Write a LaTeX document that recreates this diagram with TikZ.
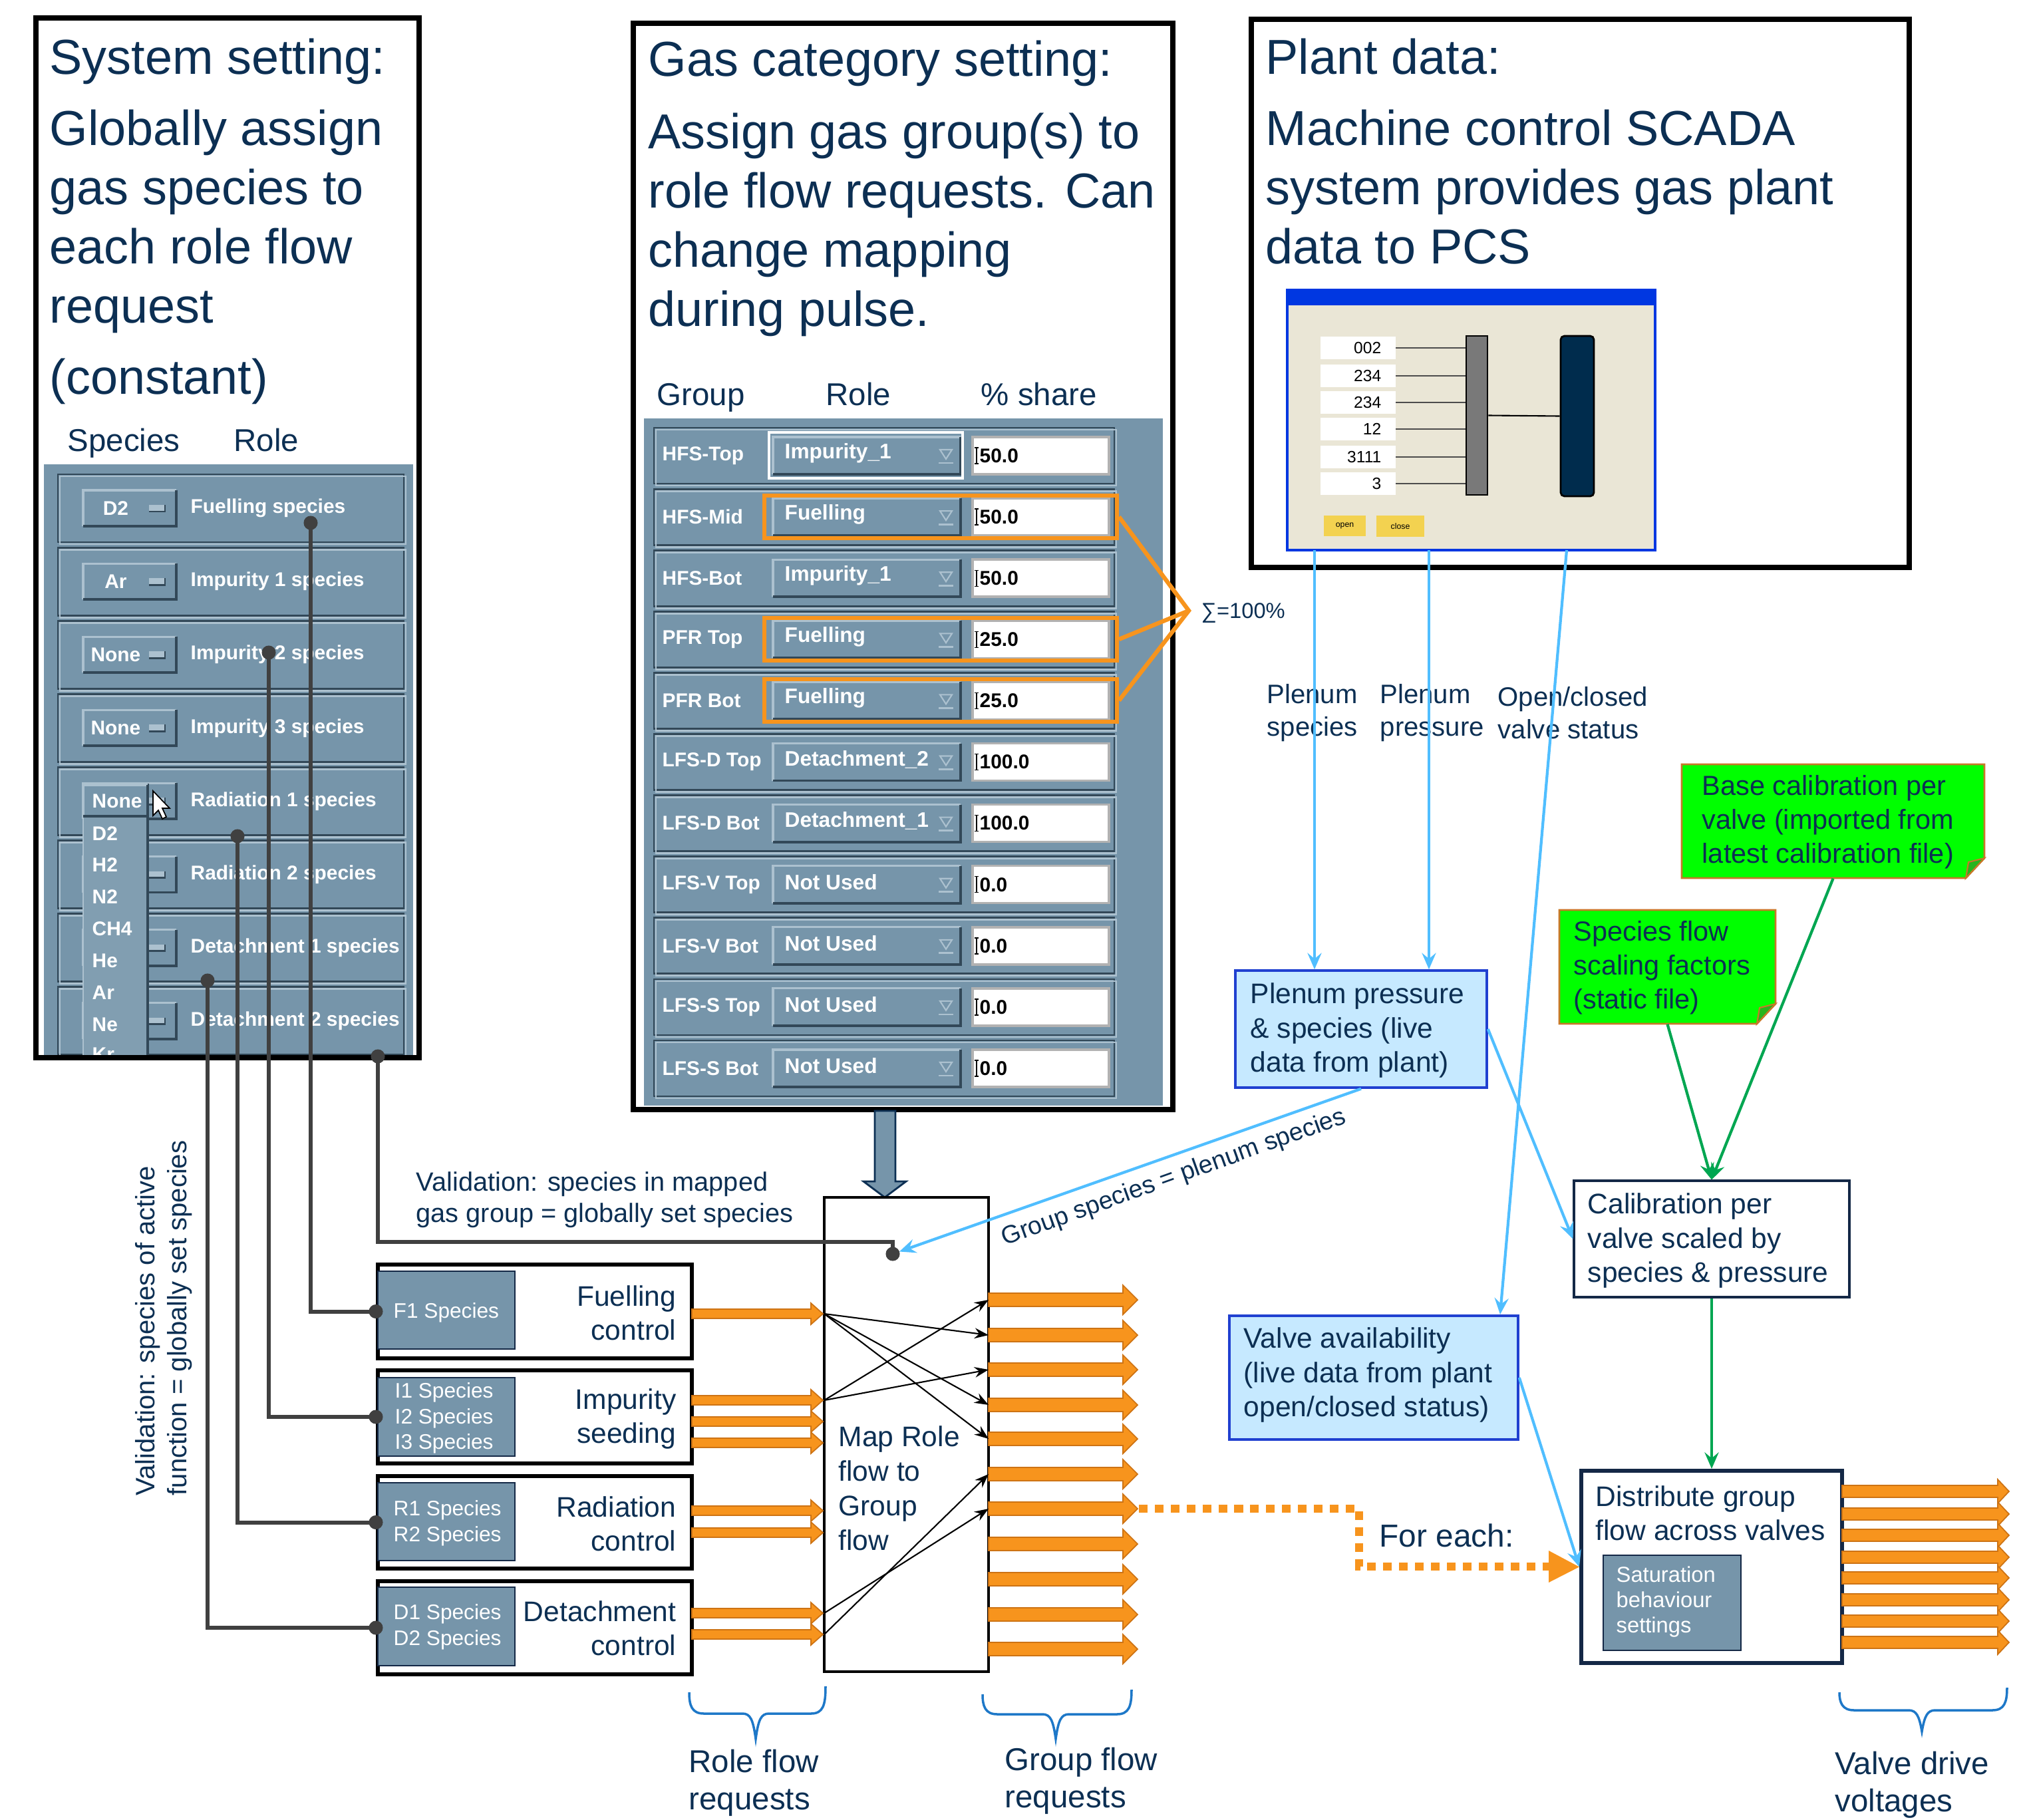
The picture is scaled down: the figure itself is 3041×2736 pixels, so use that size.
\documentclass[tikz,border=0pt]{standalone}
\usepackage{fontspec}
\setmainfont{Liberation Sans}
\usetikzlibrary{arrows.meta,fit}
\definecolor{navy}{RGB}{12,47,83}
\definecolor{steel}{RGB}{118,149,170}
\definecolor{steellt}{RGB}{172,193,207}
\definecolor{steeldk}{RGB}{50,72,88}
\definecolor{orng}{RGB}{247,148,29}
\definecolor{orngdk}{RGB}{205,115,20}
\definecolor{skyline}{RGB}{80,190,255}
\definecolor{plenfill}{RGB}{198,233,255}
\definecolor{plenedge}{RGB}{32,64,208}
\definecolor{grnarrow}{RGB}{0,166,81}
\definecolor{notegreen}{RGB}{0,255,0}
\definecolor{noteflap}{RGB}{40,180,30}
\definecolor{noteedge}{RGB}{200,120,40}
\definecolor{connector}{RGB}{64,64,64}
\definecolor{beige}{RGB}{234,230,214}
\definecolor{scadablue}{RGB}{0,55,225}
\definecolor{darkbar}{RGB}{0,44,77}
\definecolor{btnyellow}{RGB}{243,210,80}
\definecolor{bracecol}{RGB}{30,120,200}
\definecolor{boxnavy}{RGB}{20,40,70}
\newcommand\fs[2]{\fontsize{#1}{#2}\selectfont}
\newcommand\guibtn[4]{%
  \fill[steel] ({#1},{#2}) rectangle ({#3},{#4});
  \draw[steellt, line width=0.9pt] ({#1},{#4}) -- ({#1},{#2}) -- ({#3},{#2});
  \draw[steeldk, line width=1.1pt] ({#3},{#2}) -- ({#3},{#4}) -- ({#1},{#4});}
\newcommand\guirow[4]{%
  \draw[steeldk, line width=0.8pt] ({#1},{#2}) rectangle ({#3},{#4});
  \draw[steellt, line width=0.8pt] ({#1+3},{#2+3}) rectangle ({#3+3},{#4+3});}
\newcommand\flowarrow[6]{%
  \filldraw[fill=orng, draw=orngdk, line width=0.5pt, line join=miter]
  ({#1},{#3-#4}) -- ({#2-#6},{#3-#4}) -- ({#2-#6},{#3-#5}) -- ({#2},{#3}) --
  ({#2-#6},{#3+#5}) -- ({#2-#6},{#3+#4}) -- ({#1},{#3+#4}) -- cycle;}
\newcommand\curlybrace[7]{%
  \draw[bracecol, line width=1pt] ({#1},{#2}) .. controls ({#1},{#6-12}) and ({#1+4},{#6}) .. ({#1+22},{#6})
  -- ({#5-20},{#6}) .. controls ({#5-8},{#6}) and ({#5-4},{#6+9}) .. ({#5},{#7})
  .. controls ({#5+4},{#6+9}) and ({#5+8},{#6}) .. ({#5+20},{#6})
  -- ({#3-22},{#6}) .. controls ({#3-4},{#6}) and ({#3},{#6-12}) .. ({#3},{#4});}
\tikzset{
  every node/.style={inner sep=0pt},
  hd/.style={font=\fs{21}{25}, text=navy, anchor=mid west},
  hdsm/.style={font=\fs{13.5}{16}, text=navy, anchor=mid west},
  gui/.style={font=\fs{8.5}{10}\bfseries, text=white},
  body/.style={font=\fs{12.1}{14.6}, text=navy, align=left, anchor=west},
  frame/.style={draw=black, line width=2.2pt},
  conn/.style={draw=connector, line width=1.7pt},
  skyarrow/.style={draw=skyline, line width=1.2pt, -{Stealth[length=7pt,width=6pt,inset=2.5pt]}},
  grnarr/.style={draw=grnarrow, line width=1.2pt, -{Stealth[length=7pt,width=6pt,inset=2.5pt]}},
  thinarrow/.style={draw=black, line width=0.6pt, -{Stealth[length=6pt,width=4.5pt,inset=2pt]}},
}
\begin{document}
\begin{tikzpicture}[x=0.01cm,y=-0.01cm]
\useasboundingbox (0,0) rectangle (3041,2736);

% ---------------- left GUI panel (system setting)
\fill[steel] (66,698) rectangle (621,1590);
\begin{scope}
\clip (66,698) rectangle (621,1588);
\foreach \i/\rowval/\rowlab in {0/D2/Fuelling species,1/Ar/Impurity 1 species,2/None/Impurity 2 species,3/None/Impurity 3 species,4/None/Radiation 1 species,5//Radiation 2 species,6//Detachment 1 species,7//Detachment 2 species}{
  \pgfmathsetmacro\yc{764+110.1*\i}
  \guirow{87}{\yc-51}{607}{\yc+51}
  \guibtn{125}{\yc-27}{265}{\yc+27}
  \fill[steellt] (224,{\yc-5}) rectangle (248,{\yc+5});
  \draw[steeldk, line width=0.8pt] (224,{\yc+5}) -- (248,{\yc+5}) -- (248,{\yc-5});
  \node[gui] (sv\i) at (174,\yc) {\rowval};
  \node[gui, anchor=west] (sl\i) at (286,\yc) {\rowlab};
}
% drop-down list
\fill[steel!92!white] (125,1178) rectangle (222,1600);
\draw[steeldk, line width=1.3pt] (222,1178) -- (222,1600);
\draw[steellt, line width=0.8pt] (125,1600) -- (125,1178) -- (222,1178);
\guibtn{125}{1180}{222}{1227}
\node[gui, anchor=west] (dl0) at (138,1204) {None};
\foreach \j/\spc/\yy in {1/D2/1253,2/H2/1300,3/N2/1348,4/CH4/1396,5/He/1444,6/Ar/1492,7/Ne/1540,8/Kr/1585}
  \node[gui, anchor=west] (dl\j) at (138,\yy) {\spc};
% mouse cursor
\filldraw[fill=white, draw=black, line width=0.5pt] (230,1189) -- (230,1226) -- (238,1218) -- (244,1231) -- (250,1228) -- (244,1215) -- (255,1215) -- cycle;
\end{scope}

% ---------------- gas category GUI panel
\fill[steel] (968,629) rectangle (1748,1662);
\foreach \i/\gname/\grole/\gshare in {0/HFS-Top/Impurity\_1/50.0,1/HFS-Mid/Fuelling/50.0,2/HFS-Bot/Impurity\_1/50.0,3/PFR Top/Fuelling/25.0,4/PFR Bot/Fuelling/25.0,5/LFS-D Top/Detachment\_2/100.0,6/LFS-D Bot/Detachment\_1/100.0,7/LFS-V Top/Not Used/0.0,8/LFS-V Bot/Not Used/0.0,9/LFS-S Top/Not Used/0.0,10/LFS-S Bot/Not Used/0.0}{
  \pgfmathsetmacro\yc{685+92.1*\i}
  \guirow{983}{\yc-42}{1675}{\yc+42}
  \node[gui, anchor=west] (gn\i) at (995,\yc) {\gname};
  \guibtn{1162}{\yc-28}{1444}{\yc+28}
  \node[gui, anchor=west, font=\fs{9}{10}\bfseries] (gr\i) at (1179,{\yc-4}) {\grole};
  \draw[steellt, line width=0.6pt] (1413,{\yc-9}) -- (1431,{\yc-9}) -- (1422,{\yc+5}) -- cycle;
  \draw[steellt, line width=0.8pt] (1411,{\yc+11}) -- (1433,{\yc+11});
  \filldraw[fill=white, draw=gray!60, line width=1pt] (1462,{\yc-28}) rectangle (1667,{\yc+28});
  \draw[black, line width=0.4pt] (1468,{\yc-12}) -- (1468,{\yc+12}) (1465,{\yc-12}) -- (1471,{\yc-12}) (1465,{\yc+12}) -- (1471,{\yc+12});
  \node[font=\fs{8.5}{10}\bfseries, anchor=west] (gv\i) at (1472,\yc) {\gshare};
}
\draw[white, line width=1.3pt] (1156,650) rectangle (1447,719);

% ---------------- plant data SCADA picture
\fill[beige] (1935,436) rectangle (2488,827);
\draw[scadablue, line width=0.9pt] (1935,436) rectangle (2488,827);
\fill[scadablue] (1935,436) rectangle (2488,459);
\foreach \k/\num/\yy in {0/002/523,1/234/565,2/234/605,3/12/645,4/3111/687,5/3/727}{
  \fill[white] (1985,{\yy-17}) rectangle (2098,{\yy+17});
  \node[font=\fs{7}{8}, anchor=east] (sn\k) at (2077,\yy) {\num};
  \draw[black!70, line width=0.5pt] (2098,\yy) -- (2204,\yy);
}
\node[fill=gray!95!black, draw=black, line width=0.8pt, fit={(2204,505) (2236,744)}] (graybar) {};
\node[fill=darkbar, draw=black, line width=0.8pt, rounded corners=1.6pt, fit={(2346,505) (2396,746)}] (darkbarn) {};
\draw[black, line width=0.6pt] (graybar.east) -- (darkbarn.west);
\node[fill=btnyellow, fit={(1990,775) (2053,806)}] (openbtn) {};
\node[font=\fs{3.5}{4}] (opentxt) at (openbtn) {open};
\node[fill=btnyellow, fit={(2069,775) (2141,807)}] (closebtn) {};
\node[font=\fs{3.5}{4}] (closetxt) at (closebtn) {close};

% ---------------- frames
\node[frame, fit={(54,27) (630,1590)}] (sysframe) {};
\node[frame, fit={(952,35) (1763,1668)}] (gasframe) {};
\node[frame, fit={(1881,29) (2870,853)}] (plantframe) {};

% ---------------- headings
\node[hd] (sys1) at (74,102) {System setting:};
\node[hd] (sys2) at (74,209) {Globally assign};
\node[hd] (sys3) at (74,298) {gas species to};
\node[hd] (sys4) at (74,387) {each role flow};
\node[hd] (sys5) at (74,476) {request};
\node[hd] (sys6) at (74,583) {(constant)};
\node[hdsm] (spechd) at (101,669) {Species};
\node[hdsm] (rolehd) at (351,669) {Role};

\node[hd] (gas1) at (974,105) {Gas category setting:};
\node[hd] (gas2) at (974,214) {Assign gas group(s) to};
\node[hd] (gas3) at (974,303) {role flow requests. Can};
\node[hd] (gas4) at (974,392) {change mapping};
\node[hd] (gas5) at (974,481) {during pulse.};
\node[hdsm] (grphd) at (987,600) {Group};
\node[hdsm] (grolehd) at (1241,600) {Role};
\node[hdsm] (sharehd) at (1474,600) {\% share};

\node[hd] (pl1t) at (1902,102) {Plant data:};
\node[hd] (pl2t) at (1902,209) {Machine control SCADA};
\node[hd] (pl3t) at (1902,298) {system provides gas plant};
\node[hd] (pl4t) at (1902,387) {data to PCS};

% ---------------- orange sum highlight
\node[draw=orng, line width=1.8pt, fit={(1149,745) (1679,809)}] (ob1) {};
\node[draw=orng, line width=1.8pt, fit={(1149,929) (1679,993)}] (ob3) {};
\node[draw=orng, line width=1.8pt, fit={(1149,1021) (1679,1085)}] (ob4) {};
\coordinate (sigapex) at (1787,918);
\draw[orng, line width=1.8pt, line join=miter] (ob1.east) -- (sigapex) -- (ob4.east);
\draw[orng, line width=1.8pt] (ob3.east) -- (sigapex);
\node[font=\fs{9.3}{11}, text=navy, anchor=west] (sumlbl) at (1805,922) {∑=100\%};

% ---------------- big block arrow gas panel -> map
\filldraw[fill=steel, draw=navy, line width=0.8pt, line join=miter] (1315,1670) -- (1346,1670) -- (1346,1776) -- (1362,1776) -- (1330,1800) -- (1298,1776) -- (1315,1776) -- cycle;

% ---------------- role boxes
\node[draw=black, line width=1.7pt, fill=white, fit={(568,1901) (1040,2042)}] (fbox) {};
\node[draw=black, line width=1.7pt, fill=white, fit={(568,2060) (1040,2200)}] (ibox) {};
\node[draw=black, line width=1.7pt, fill=white, fit={(568,2219) (1040,2358)}] (rbox) {};
\node[draw=black, line width=1.7pt, fill=white, fit={(568,2377) (1040,2517)}] (dbox) {};
\node[fill=steel, draw=boxnavy, line width=0.8pt, fit={(568,1911) (774,2028)}] (fsp) {};
\node[fill=steel, draw=boxnavy, line width=0.8pt, fit={(568,2071) (774,2189)}] (isp) {};
\node[fill=steel, draw=boxnavy, line width=0.8pt, fit={(568,2229) (774,2346)}] (rsp) {};
\node[fill=steel, draw=boxnavy, line width=0.8pt, fit={(568,2386) (774,2504)}] (dsp) {};
\node[font=\fs{9}{11}, text=white, align=left, anchor=west] (fspt) at (591,1973) {F1 Species};
\node[font=\fs{9}{11}, text=white, align=left, anchor=west] (ispt) at (593,2132) {I1 Species\\I2 Species\\I3 Species};
\node[font=\fs{9}{11}, text=white, align=left, anchor=west] (rspt) at (591,2290) {R1 Species\\R2 Species};
\node[font=\fs{9}{11}, text=white, align=left, anchor=west] (dspt) at (591,2446) {D1 Species\\D2 Species};
\node[body, align=right, anchor=east] (ftxt) at (1017,1974) {Fuelling\\control};
\node[body, align=right, anchor=east] (itxt) at (1017,2133) {Impurity\\seeding};
\node[body, align=right, anchor=east] (rtxt) at (1017,2291) {Radiation\\control};
\node[body, align=right, anchor=east] (dtxt) at (1017,2448) {Detachment\\control};

% ---------------- map box
\node[draw=black, line width=1.4pt, fit={(1239,1800) (1486,2513)}] (map) {};
\node[body, font=\fs{12.1}{14.8}] (maptxt) at (1260,2237) {Map Role\\flow to\\Group\\flow};

% role flow arrows
\flowarrow{1040}{1237}{1975}{7}{16}{18}
\flowarrow{1040}{1237}{2105}{7}{16}{18}
\flowarrow{1040}{1237}{2137}{7}{16}{18}
\flowarrow{1040}{1237}{2169}{7}{16}{18}
\flowarrow{1040}{1237}{2271}{7}{16}{18}
\flowarrow{1040}{1237}{2304}{7}{16}{18}
\flowarrow{1040}{1237}{2425}{7}{16}{18}
\flowarrow{1040}{1237}{2457}{7}{16}{18}
\coordinate (rin1) at (1239,1975);
\coordinate (rin2) at (1239,2105);
\coordinate (rin3) at (1239,2425);
\coordinate (rin4) at (1239,2457);

% group flow arrows
\foreach \k/\yy in {1/1954,2/2007,3/2059,4/2112,5/2163,6/2216,7/2268,8/2321,9/2374,10/2427,11/2479}{
  \flowarrow{1486}{1710}{\yy}{10}{22}{22}
  \coordinate (g\k) at (1486,\yy);
}
\coordinate (g7tip) at (1712,2268);

% mapping arrows
\draw[thinarrow] (rin1) -- (g2);
\draw[thinarrow] (rin1) -- (g4);
\draw[thinarrow] (rin1) -- (g5);
\draw[thinarrow] (rin2) -- (g1);
\draw[thinarrow] (rin2) -- (g3);
\draw[thinarrow] (rin3) -- (g7);
\draw[thinarrow] (rin4) -- (g6);

% ---------------- right side boxes
\node[fill=plenfill, draw=plenedge, line width=1pt, fit={(1857,1459) (2235,1635)}] (plenum) {};
\node[body] (plentxt) at (1879,1549) {Plenum pressure\\\& species (live\\data from plant)};
\node[fill=white, draw=boxnavy, line width=0.9pt, fit={(2366,1775) (2780,1950)}] (calib) {};
\node[body] (calibtxt) at (2386,1865) {Calibration per\\valve scaled by\\species \& pressure};
\node[fill=plenfill, draw=plenedge, line width=1pt, fit={(1848,1978) (2282,2164)}] (valve) {};
\node[body] (valvetxt) at (1869,2067) {Valve availability\\(live data from plant\\open/closed status)};
\node[fill=white, draw=boxnavy, line width=1.7pt, fit={(2377,2211) (2769,2500)}] (dist) {};
\node[body] (disttxt) at (2398,2275) {Distribute group\\flow across valves};
\node[fill=steel, draw=boxnavy, line width=0.8pt, fit={(2410,2338) (2617,2481)}] (satbox) {};
\node[font=\fs{9.3}{10.8}, text=white, align=left, anchor=west] (sattxt) at (2429,2408) {Saturation\\behaviour\\settings};

% green notes
\filldraw[fill=notegreen, draw=noteedge, line width=0.8pt] (2528,1149) -- (2983,1149) -- (2983,1290) -- (2955,1320) -- (2528,1320) -- cycle;
\filldraw[fill=noteflap, draw=noteedge, line width=0.6pt] (2983,1290) -- (2955,1320) -- (2959,1296) -- cycle;
\node[fit={(2528,1149) (2983,1320)}] (basenote) {};
\node[body, font=\fs{11.8}{14.5}] (basetxt) at (2558,1236) {Base calibration per\\valve (imported from\\latest calibration file)};
\filldraw[fill=notegreen, draw=noteedge, line width=0.8pt] (2344,1368) -- (2669,1368) -- (2669,1509) -- (2641,1539) -- (2344,1539) -- cycle;
\filldraw[fill=noteflap, draw=noteedge, line width=0.6pt] (2669,1509) -- (2641,1539) -- (2645,1515) -- cycle;
\node[fit={(2344,1368) (2669,1539)}] (specnote) {};
\node[body, font=\fs{11.8}{14.5}] (spectxt) at (2365,1455) {Species flow\\scaling factors\\(static file)};

% output arrows
\foreach \yy in {2242,2276,2308,2341,2372,2405,2437,2469}{
  \flowarrow{2769}{3020}{\yy}{9}{18}{17}
}

% labels for plant lines
\node[font=\fs{11.4}{14}, text=navy, align=left, anchor=west] (lblspec) at (1904,1072) {Plenum\\species};
\node[font=\fs{11.4}{14}, text=navy, align=left, anchor=west] (lblpres) at (2074,1072) {Plenum\\pressure};
\node[font=\fs{11.4}{14}, text=navy, align=left, anchor=west] (lblvalve) at (2251,1072) {Open/closed\\valve status};

% plant data lines
\coordinate (pl1) at (1976,827);
\coordinate (pl2) at (2148,827);
\coordinate (pl3) at (2355,827);
\coordinate (vtop) at (2255,1976);
\draw[skyarrow] (pl1) -- (pl1 |- plenum.north);
\draw[skyarrow] (pl2) -- (pl2 |- plenum.north);
\draw[skyarrow] (pl3) -- (vtop);
\draw[skyarrow] (plenum.east) -- (calib.west);
\draw[skyarrow] (valve.east) -- (dist.west);

% green arrows
\draw[grnarr] (specnote.south) -- (calib.north);
\draw[grnarr] (basenote.south) -- (calib.north);
\draw[grnarr] (calib.south) -- (dist.north);

% for each dotted
\coordinate (fecorner1) at (2043,2268);
\coordinate (fecorner2) at (2043,2355);
\draw[orng, line width=3.4pt, dash pattern=on 3.7pt off 3.1pt] (g7tip) -- (fecorner1) -- (fecorner2) -- (2328,2355);
\fill[orng] (2328,2331) -- (dist.west) -- (2328,2379) -- cycle;
\node[font=\fs{13.6}{16}, text=navy, anchor=west] (foreach) at (2073,2308) {For each:};

% ---------------- validation connectors
\coordinate (d1) at (467,786);
\coordinate (d2) at (404,981);
\coordinate (d3) at (357,1257);
\coordinate (d4) at (312,1474);
\coordinate (d5) at (568,1588);
\coordinate (vcorner) at (1342,1867);
\coordinate (vdot) at (1342,1885);
\draw[conn] (d1) |- (fbox.west);
\draw[conn] (d2) |- (ibox.west);
\draw[conn] (d3) |- (rbox.west);
\draw[conn] (d4) |- (dbox.west);
\draw[conn] (d5) |- (vcorner) -- (vdot);
\foreach \p in {d1,d2,d3,d4,d5,vdot,fbox.west,ibox.west,rbox.west,dbox.west}
  \fill[connector] (\p) circle (3pt);
\draw[skyarrow, shorten >=3pt] (plenum.south) -- (vdot);
\node[font=\fs{10.7}{12}, text=navy, rotate=19.7, anchor=base] (grpspec) at (1768,1780) {Group species = plenum species};

\node[font=\fs{11.3}{13.4}, text=navy, align=left, anchor=west] (valtop) at (625,1804) {Validation: species in mapped\\gas group = globally set species};
\node[font=\fs{11.4}{13.5}, text=navy, rotate=90, anchor=west] (valrot1) at (222,2249) {Validation: species of active};
\node[font=\fs{11.4}{13.5}, text=navy, rotate=90, anchor=west] (valrot2) at (270,2249) {function = globally set species};

% ---------------- braces
\curlybrace{1036}{2544}{1241}{2535}{1136}{2576}{2614}
\curlybrace{1477}{2547}{1701}{2540}{1587}{2577}{2614}
\curlybrace{2765}{2544}{3017}{2537}{2889}{2571}{2603}
\node[font=\fs{13.5}{15.8}, text=navy, align=left, anchor=west] (rolelbl) at (1035,2680) {Role flow\\requests};
\node[font=\fs{13.5}{15.8}, text=navy, align=left, anchor=west] (grouplbl) at (1510,2677) {Group flow\\requests};
\node[font=\fs{13.5}{15.8}, text=navy, align=left, anchor=west] (valvelbl) at (2758,2683) {Valve drive\\voltages};
\end{tikzpicture}
\end{document}
